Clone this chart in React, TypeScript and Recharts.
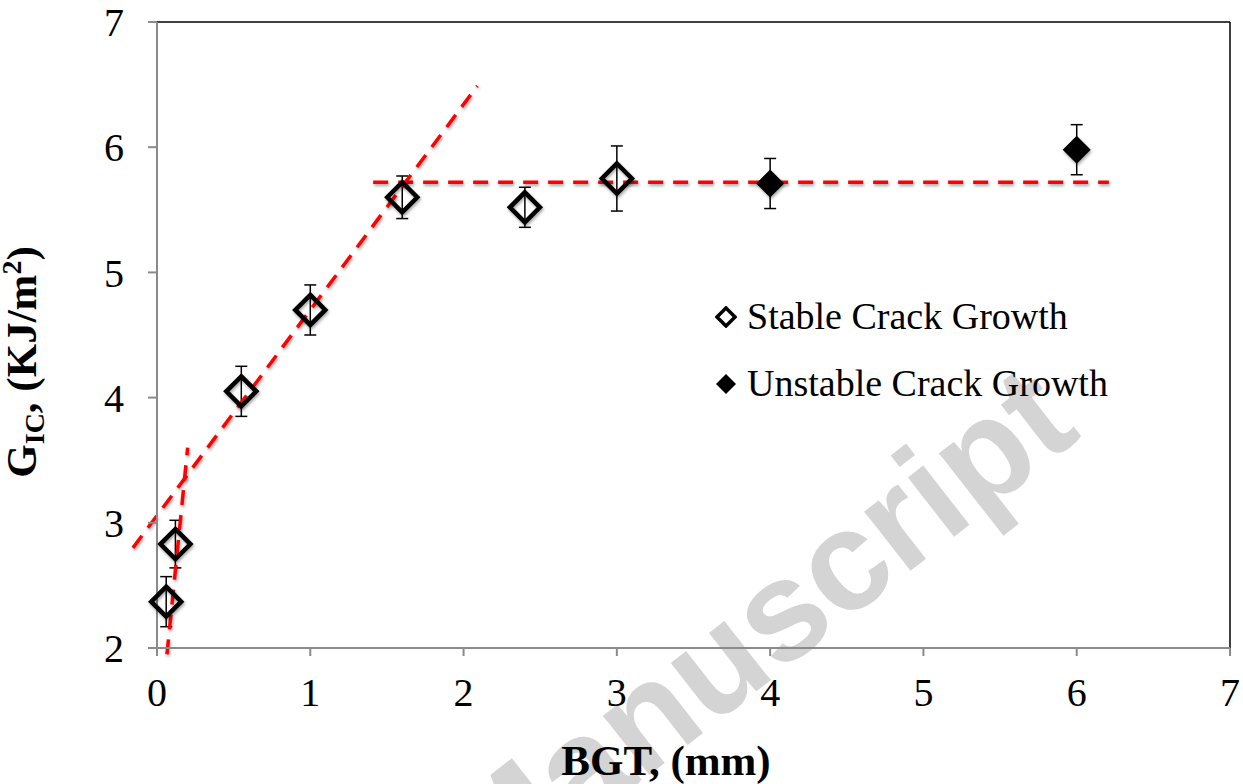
import { ScatterChart, Scatter, XAxis, YAxis, ErrorBar, ReferenceLine, Legend } from 'recharts'

const stableBgt = [0.06, 0.12, 0.55, 1.0, 1.6, 2.4, 3.0]
const stableGic = [2.37, 2.83, 4.05, 4.7, 5.6, 5.52, 5.75]
const stableErr = [0.2, 0.19, 0.2, 0.2, 0.17, 0.16, 0.26]

const unstableBgt = [4, 6]
const unstableGic = [5.71, 5.98]
const unstableErr = [0.2, 0.2]

const xTicks = [0, 1, 2, 3, 4, 5, 6, 7]
const yTicks = [2, 3, 4, 5, 6, 7]

// dashed trend lines, end points in data units
const plateauLine = [
  { x: 1.41, y: 5.72 },
  { x: 6.21, y: 5.72 },
]
const slopeLine = [
  { x: -0.157, y: 2.8 },
  { x: 2.09, y: 6.49 },
]
const steepLine = [
  { x: 0.065, y: 1.95 },
  { x: 0.2, y: 3.6 },
]

const stableData = stableBgt.map((x, i) => ({ x, y: stableGic[i], err: stableErr[i] }))
const unstableData = unstableBgt.map((x, i) => ({ x, y: unstableGic[i], err: unstableErr[i] }))

const SERIF = '"Liberation Serif", "Times New Roman", serif'
const AXIS_GREY = '#8a8a8a'
const SHADOW = 'drop-shadow(1px 2px 1.5px rgba(0,0,0,0.35))'

const OpenDiamond = (props: any) => {
  const { cx, cy } = props
  const r = 15
  return (
    <path
      d={`M${cx},${cy - r}L${cx + r},${cy}L${cx},${cy + r}L${cx - r},${cy}Z`}
      fill="none"
      stroke="#000"
      strokeWidth={4.5}
      style={{ filter: SHADOW }}
    />
  )
}

const FilledDiamond = (props: any) => {
  const { cx, cy } = props
  const r = 14
  return (
    <path
      d={`M${cx},${cy - r}L${cx + r},${cy}L${cx},${cy + r}L${cx - r},${cy}Z`}
      fill="#000"
      style={{ filter: SHADOW }}
    />
  )
}

const LegendBox = () => (
  <div style={{ fontFamily: SERIF, fontSize: 38, color: '#000' }}>
    <div style={{ display: 'flex', alignItems: 'center', height: 67 }}>
      <svg width={22} height={22} style={{ marginRight: 10 }}>
        <path d="M11,2L20,11L11,20L2,11Z" fill="none" stroke="#000" strokeWidth={3.5} />
      </svg>
      <span style={{ lineHeight: '67px' }}>Stable Crack Growth</span>
    </div>
    <div style={{ display: 'flex', alignItems: 'center', height: 67 }}>
      <svg width={22} height={22} style={{ marginRight: 10 }}>
        <path d="M11,1L21,11L11,21L1,11Z" fill="#000" />
      </svg>
      <span style={{ lineHeight: '67px' }}>Unstable Crack Growth</span>
    </div>
  </div>
)

const YLabel = () => (
  <text
    transform="translate(36,362) rotate(-90)"
    textAnchor="middle"
    fontFamily={SERIF}
    fontWeight="bold"
    fontSize={43}
    fill="#000"
  >
    G
    <tspan fontSize={28} dy={8}>IC</tspan>
    <tspan fontSize={43} dy={-8}>, (KJ/m</tspan>
    <tspan fontSize={28} dy={-15}>2</tspan>
    <tspan fontSize={43} dy={15}>)</tspan>
  </text>
)

const XLabel = () => (
  <text x={666} y={775} textAnchor="middle" fontFamily={SERIF} fontWeight="bold" fontSize={43} fill="#000">
    BGT, (mm)
  </text>
)

export default function App() {
  return (
    <div style={{ position: 'absolute', left: 0, top: 0, width: 1243, height: 784, background: '#fff', overflow: 'hidden' }}>
      <svg width={1243} height={784} style={{ position: 'absolute', left: 0, top: 0 }}>
        <text
          transform="translate(1083,436) rotate(-38)"
          textAnchor="end"
          fontFamily='"Liberation Sans", Arial, sans-serif'
          fontWeight="bold"
          fontSize={142}
          fill="#d4d4d4"
        >
          Manuscript
        </text>
      </svg>
      <div style={{ position: 'absolute', left: 0, top: 0 }}>
        <ScatterChart width={1243} height={784} margin={{ top: 22, right: 13, bottom: 76, left: 97 }}>
          <XAxis
            type="number"
            dataKey="x"
            domain={[0, 7]}
            ticks={xTicks}
            interval={0}
            height={60}
            stroke={AXIS_GREY}
            strokeWidth={2}
            tickSize={8}
            tickMargin={22}
            tick={{ fill: '#000', fontFamily: SERIF, fontSize: 40 }}
            label={{ content: XLabel }}
          />
          <YAxis
            type="number"
            dataKey="y"
            domain={[2, 7]}
            ticks={yTicks}
            interval={0}
            width={60}
            stroke={AXIS_GREY}
            strokeWidth={2}
            tickSize={9}
            tickMargin={24}
            tick={{ fill: '#000', fontFamily: SERIF, fontSize: 40 }}
            label={{ content: YLabel }}
          />
          <ReferenceLine y={7} stroke="#000" strokeWidth={1.5} />
          <ReferenceLine x={7} stroke="#000" strokeWidth={1.5} />
          <Legend
            layout="vertical"
            align="center"
            verticalAlign="middle"
            content={LegendBox}
            wrapperStyle={{ position: 'absolute', left: 715, top: 283, width: 420 }}
          />
          <Scatter name="Stable Crack Growth" data={stableData} shape={OpenDiamond} isAnimationActive={false}>
            <ErrorBar dataKey="err" direction="y" width={6} stroke="#000" strokeWidth={1.5} />
          </Scatter>
          <Scatter name="Unstable Crack Growth" data={unstableData} shape={FilledDiamond} isAnimationActive={false}>
            <ErrorBar dataKey="err" direction="y" width={6} stroke="#000" strokeWidth={1.5} />
          </Scatter>
          <ReferenceLine
            segment={plateauLine}
            ifOverflow="visible"
            stroke="#ff0000"
            strokeWidth={3.5}
            strokeDasharray="15 10"
            style={{ filter: SHADOW }}
          />
          <ReferenceLine
            segment={slopeLine}
            ifOverflow="visible"
            stroke="#ff0000"
            strokeWidth={3.5}
            strokeDasharray="15 10"
            style={{ filter: SHADOW }}
          />
          <ReferenceLine
            segment={steepLine}
            ifOverflow="visible"
            stroke="#ff0000"
            strokeWidth={3.5}
            strokeDasharray="15 10"
            style={{ filter: SHADOW }}
          />
        </ScatterChart>
      </div>
    </div>
  )
}
